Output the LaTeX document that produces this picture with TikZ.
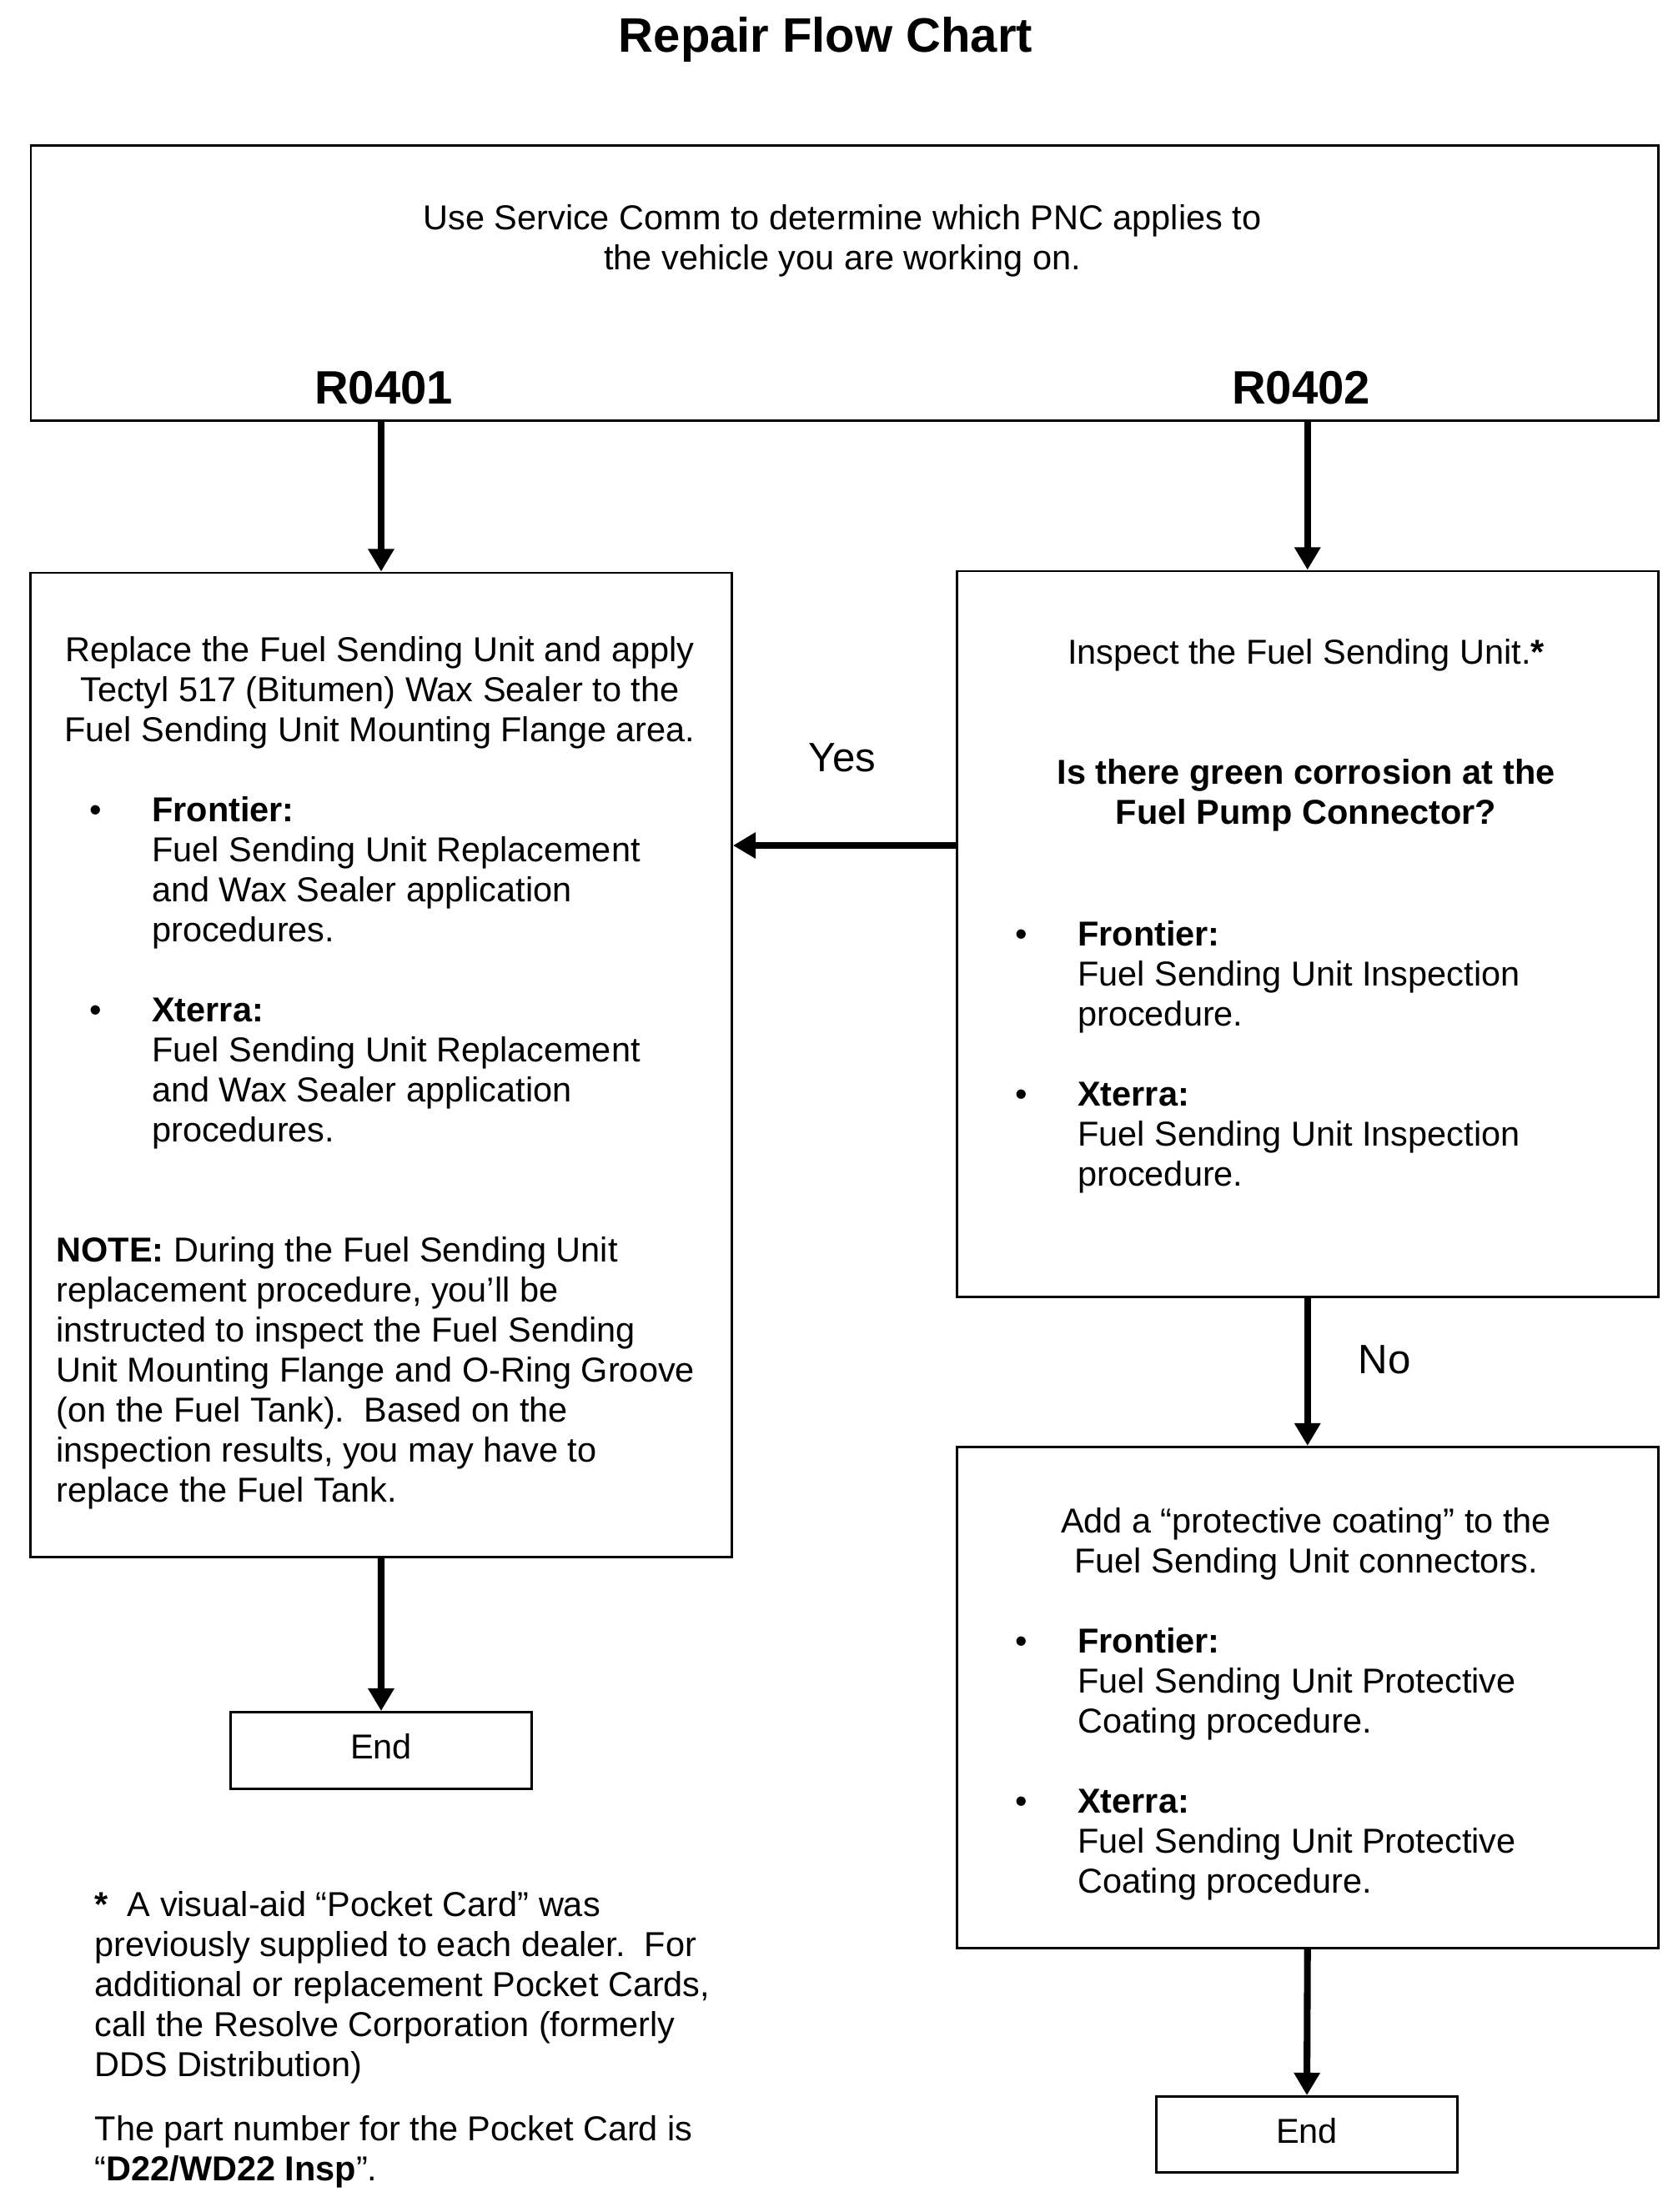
\documentclass[tikz,border=0pt]{standalone}
\usepackage{fontspec}
\setmainfont{Liberation Sans}
\usetikzlibrary{arrows.meta}

\newcommand{\bodyfont}{\fontsize{11.8}{13.66}\selectfont}
\newcommand{\bul}{\makebox[0.745cm][l]{\textbullet}}
\newcommand{\ind}{\hspace*{0.745cm}}

\tikzset{
  box/.style={draw, line width=0.85pt, inner sep=0pt, font=\bodyfont},
  endbox/.style={box, minimum width=3.61cm, text depth=0.1cm},
  txt/.style={inner sep=0pt, font=\bodyfont},
  flow/.style={-{Triangle[length=7.7pt, width=8.5pt]}, line width=2.3pt},
}

\begin{document}
\begin{tikzpicture}
  \useasboundingbox (0,0) rectangle (20.05,-26.53);

  % Title
  \node[inner sep=0pt, anchor=base, font=\fontsize{16.5}{19}\selectfont\bfseries] (title)
    at (9.90,-0.625) {Repair Flow Chart};

  % PNC box
  \node[box, anchor=north west, minimum width=19.51cm, minimum height=3.30cm] (pnc)
    at (0.355,-1.73) {};
  \node[txt, anchor=north, align=center] (pnctxt) at (10.10,-2.408)
    {\strut Use Service Comm to determine which PNC applies to\\the vehicle you are working on.};
  \node[inner sep=0pt, anchor=base, font=\fontsize{16}{19}\selectfont\bfseries] (r401)
    at (4.60,-4.84) {R0401};
  \node[inner sep=0pt, anchor=base, font=\fontsize{16}{19}\selectfont\bfseries] (r402)
    at (15.60,-4.84) {R0402};

  % Replace box (R0401)
  \node[box, anchor=north west, minimum width=8.41cm, minimum height=11.805cm] (repl)
    at (0.35,-6.855) {};
  \node[txt, anchor=north, align=center] (repltxt) at (4.555,-7.593)
    {\strut Replace the Fuel Sending Unit and apply\\
     Tectyl 517 (Bitumen) Wax Sealer to the\\
     Fuel Sending Unit Mounting Flange area.};
  \node[txt, anchor=north west, align=left] (repllist) at (1.07,-9.513)
    {\strut\bul\textbf{Frontier:}\\
     \ind Fuel Sending Unit Replacement\\
     \ind and Wax Sealer application\\
     \ind procedures.\\[\baselineskip]
     \bul\textbf{Xterra:}\\
     \ind Fuel Sending Unit Replacement\\
     \ind and Wax Sealer application\\
     \ind procedures.};
  \node[txt, anchor=north west, align=left] (replnote) at (0.67,-14.793)
    {\strut\textbf{NOTE:} During the Fuel Sending Unit\\
     replacement procedure, you’ll be\\
     instructed to inspect the Fuel Sending\\
     Unit Mounting Flange and O-Ring Groove\\
     (on the Fuel Tank).\ \ Based on the\\
     inspection results, you may have to\\
     replace the Fuel Tank.};

  % Inspect box (R0402)
  \node[box, anchor=north west, minimum width=8.415cm, minimum height=8.70cm] (insp)
    at (11.455,-6.835) {};
  \node[txt, anchor=north, align=center] (insptxt) at (15.66,-7.623)
    {\strut Inspect the Fuel Sending Unit.\textbf{*}\\[2\baselineskip]
     \textbf{Is there green corrosion at the}\\
     \textbf{Fuel Pump Connector?}};
  \node[txt, anchor=north west, align=left] (insplist) at (12.17,-11.003)
    {\strut\bul\textbf{Frontier:}\\
     \ind Fuel Sending Unit Inspection\\
     \ind procedure.\\[\baselineskip]
     \bul\textbf{Xterra:}\\
     \ind Fuel Sending Unit Inspection\\
     \ind procedure.};

  % Coating box
  \node[box, anchor=north west, minimum width=8.415cm, minimum height=6.005cm] (coat)
    at (11.455,-17.34) {};
  \node[txt, anchor=north, align=center] (coattxt) at (15.66,-18.043)
    {\strut Add a “protective coating” to the\\Fuel Sending Unit connectors.};
  \node[txt, anchor=north west, align=left] (coatlist) at (12.17,-19.483)
    {\strut\bul\textbf{Frontier:}\\
     \ind Fuel Sending Unit Protective\\
     \ind Coating procedure.\\[\baselineskip]
     \bul\textbf{Xterra:}\\
     \ind Fuel Sending Unit Protective\\
     \ind Coating procedure.};

  % End boxes
  \node[endbox, anchor=north west, minimum height=0.92cm] (end1) at (2.75,-20.52) {End};
  \node[endbox, anchor=north west, minimum height=0.91cm] (end2) at (13.85,-25.13) {End};

  % Footnote
  \node[txt, anchor=north west, align=left] (foot) at (1.13,-22.643)
    {\strut\textbf{*}\ \ A visual-aid “Pocket Card” was\\
     previously supplied to each dealer.\ \ For\\
     additional or replacement Pocket Cards,\\
     call the Resolve Corporation (formerly\\
     DDS Distribution)\\[0.29cm]
     The part number for the Pocket Card is\\
     “\textbf{D22/WD22 Insp}”.};

  % Arrows
  \draw[flow] (pnc.south -| repl.north) -- (repl.north);
  \draw[flow] (pnc.south -| insp.north) -- (insp.north);
  \coordinate (yes) at (0,-10.14);
  \draw[flow] (insp.west |- yes) -- (repl.east |- yes);
  \draw[flow] (insp.south) -- (coat.north);
  \draw[flow] (repl.south) -- (end1.north);
  \draw[flow] (coat.south) -- (end2.north);

  % Branch labels
  \node[inner sep=0pt, font=\fontsize{14}{16}\selectfont] (yeslbl) at (10.10,-9.09) {Yes};
  \node[inner sep=0pt, font=\fontsize{14}{16}\selectfont] (nolbl) at (16.60,-16.31) {No};
\end{tikzpicture}
\end{document}
